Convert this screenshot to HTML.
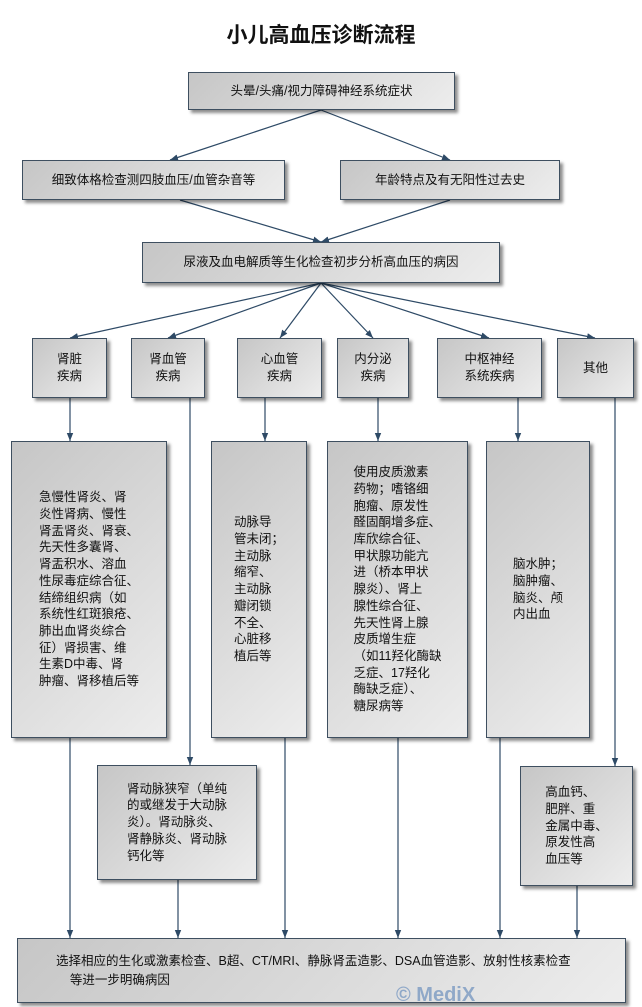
<!DOCTYPE html>
<html><head><meta charset="utf-8"><style>
body{margin:0;width:642px;height:1007px;background:#fff;position:relative;overflow:hidden;font-family:"Liberation Sans","Noto Sans CJK SC",sans-serif;color:#111}
.b{position:absolute;box-sizing:border-box;border:1px solid #3e4f60;background:linear-gradient(135deg,#c6c6c6,#ededed);box-shadow:3px 3px 3px rgba(0,0,0,.45);font-size:12.5px;display:flex;align-items:center;justify-content:center;text-align:center;line-height:17px}
.t{text-align:left;font-size:12.5px;line-height:16.7px;white-space:nowrap}
svg{position:absolute;left:0;top:0}
</style></head><body>
<div style="position:absolute;left:0;width:642px;top:19px;text-align:center;font-size:21px;font-weight:bold;font-family:'Noto Sans CJK SC',sans-serif">小儿高血压诊断流程</div>
<svg width="642" height="1007"><defs>
<marker id="m" viewBox="0 0 10 10" markerWidth="8" markerHeight="10" refX="10" refY="5" orient="auto" markerUnits="userSpaceOnUse"><path d="M0,1 L10,5 L0,9z" fill="#2e4a66"/></marker></defs>
<g stroke="#2e4a66" stroke-width="1.2" fill="none" marker-end="url(#m)">
<line x1="321" y1="110" x2="170" y2="160"/><line x1="321" y1="110" x2="450" y2="160"/>
<line x1="180" y1="200" x2="321" y2="242"/><line x1="450" y1="200" x2="321" y2="242"/>
<line x1="321" y1="283" x2="70" y2="338"/><line x1="321" y1="283" x2="168" y2="338"/><line x1="321" y1="283" x2="280" y2="338"/><line x1="321" y1="283" x2="373" y2="338"/><line x1="321" y1="283" x2="489" y2="338"/><line x1="321" y1="283" x2="595" y2="338"/>
<line x1="70" y1="398" x2="70" y2="441"/><line x1="265" y1="398" x2="265" y2="441"/><line x1="378" y1="398" x2="378" y2="441"/><line x1="518" y1="398" x2="518" y2="441"/>
<line x1="190" y1="398" x2="190" y2="765"/><line x1="615" y1="398" x2="615" y2="766"/>
<line x1="70" y1="738" x2="70" y2="938"/><line x1="178" y1="880" x2="178" y2="938"/><line x1="285" y1="738" x2="285" y2="938"/><line x1="398" y1="738" x2="398" y2="938"/><line x1="500" y1="738" x2="500" y2="938"/><line x1="577" y1="886" x2="577" y2="938"/>
</g></svg>
<div class="b" style="left:188px;top:72px;width:267px;height:38px">头晕/头痛/视力障碍神经系统症状</div>
<div class="b" style="left:22px;top:160px;width:263px;height:40px">细致体格检查测四肢血压/血管杂音等</div>
<div class="b" style="left:340px;top:160px;width:220px;height:40px">年龄特点及有无阳性过去史</div>
<div class="b" style="left:142px;top:242px;width:358px;height:41px">尿液及血电解质等生化检查初步分析高血压的病因</div>
<div class="b" style="left:32px;top:338px;width:75px;height:60px">肾脏<br>疾病</div>
<div class="b" style="left:131px;top:338px;width:74px;height:60px">肾血管<br>疾病</div>
<div class="b" style="left:237px;top:338px;width:85px;height:60px">心血管<br>疾病</div>
<div class="b" style="left:337px;top:338px;width:72px;height:60px">内分泌<br>疾病</div>
<div class="b" style="left:437px;top:338px;width:105px;height:60px">中枢神经<br>系统疾病</div>
<div class="b" style="left:557px;top:338px;width:77px;height:60px">其他</div>
<div class="b" style="left:11px;top:441px;width:156px;height:297px"><div class="t">急慢性肾炎、肾<br>炎性肾病、慢性<br>肾盂肾炎、肾衰、<br>先天性多囊肾、<br>肾盂积水、溶血<br>性尿毒症综合征、<br>结缔组织病（如<br>系统性红斑狼疮、<br>肺出血肾炎综合<br>征）肾损害、维<br>生素D中毒、肾<br>肿瘤、肾移植后等</div></div>
<div class="b" style="left:211px;top:441px;width:96px;height:297px"><div class="t">动脉导<br>管未闭；<br>主动脉<br>缩窄、<br>主动脉<br>瓣闭锁<br>不全、<br>心脏移<br>植后等</div></div>
<div class="b" style="left:327px;top:441px;width:141px;height:297px"><div class="t">使用皮质激素<br>药物；嗜铬细<br>胞瘤、原发性<br>醛固酮增多症、<br>库欣综合征、<br>甲状腺功能亢<br>进（桥本甲状<br>腺炎）、肾上<br>腺性综合征、<br>先天性肾上腺<br>皮质增生症<br>（如11羟化酶缺<br>乏症、17羟化<br>酶缺乏症）、<br>糖尿病等</div></div>
<div class="b" style="left:486px;top:441px;width:104px;height:297px"><div class="t">脑水肿；<br>脑肿瘤、<br>脑炎、颅<br>内出血</div></div>
<div class="b" style="left:97px;top:765px;width:160px;height:115px"><div class="t">肾动脉狭窄（单纯<br>的或继发于大动脉<br>炎）。肾动脉炎、<br>肾静脉炎、肾动脉<br>钙化等</div></div>
<div class="b" style="left:520px;top:766px;width:113px;height:120px"><div class="t">高血钙、<br>肥胖、重<br>金属中毒、<br>原发性高<br>血压等</div></div>
<div class="b" style="left:17px;top:938px;width:609px;height:65px;justify-content:flex-start"><div class="t" style="padding-left:38px;line-height:19px">选择相应的生化或激素检查、B超、CT/MRI、静脉肾盂造影、DSA血管造影、放射性核素检查<br>&nbsp;&nbsp;&nbsp;&nbsp;等进一步明确病因</div></div>
<div style="position:absolute;left:396px;top:984px;font-size:20px;font-weight:bold;color:#8fa8c8;font-family:'Liberation Sans',sans-serif">© MediX</div>
</body></html>
